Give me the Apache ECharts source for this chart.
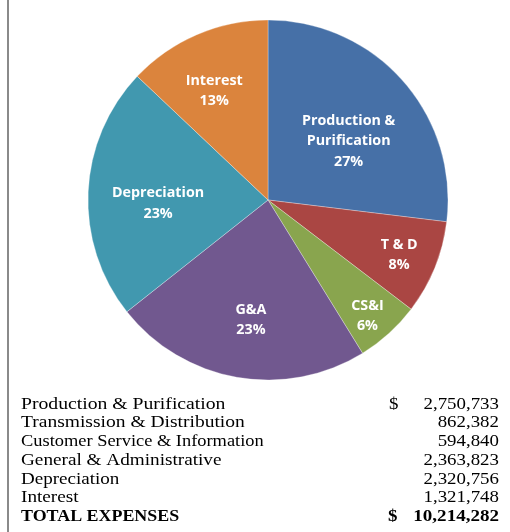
<!DOCTYPE html>
<html>
<head>
<meta charset="utf-8">
<script src="https://cdn.jsdelivr.net/npm/echarts@6/dist/echarts.min.js"></script>
<style>
  html, body { margin: 0; padding: 0; background: #ffffff; }
  #chart { width: 510px; height: 532px; }
</style>
</head>
<body>
<div id="chart"></div>
<script>
// ---- Data ----
var sliceLabels = ['Production &\nPurification', 'T & D', 'CS&I', 'G&A', 'Depreciation', 'Interest'];
var expenseNames = ['Production & Purification', 'Transmission & Distribution', 'Customer Service & Information',
                    'General & Administrative', 'Depreciation', 'Interest'];
var expenseAmounts = [2750733, 862382, 594840, 2363823, 2320756, 1321748];
var totalLabel = 'TOTAL EXPENSES';

// ---- Styles ----
var sliceColors = ['#4670A7', '#AA4643', '#89A54E', '#71588F', '#4198AF', '#DB843D'];
var labelOffsets = [[11, 3], [45, 20], [37, 47], [-1, 28.5], [-17, 7.5], [-17, -23.5]];
var nameScales = [1.23, 1.22, 1.15, 1.2, 1.19, 1.2];

var total = expenseAmounts.reduce(function (a, b) { return a + b; }, 0);
function fmt(n) { return n.toLocaleString('en-US'); }

var pieData = sliceLabels.map(function (name, i) {
  return { name: name, value: expenseAmounts[i], itemStyle: { color: sliceColors[i] } };
});

var graphics = [
  { type: 'rect', shape: { x: 7, y: 0, width: 2, height: 532 }, style: { fill: '#8a8a8a' } }
];
var rowY0 = 404.5, rowStep = 18.7;
var serif = '"Liberation Serif", "Times New Roman", serif';
function txt(x, y, s, align, bold, sx) {
  return {
    type: 'text', x: x, y: y, scaleX: sx,
    style: { x: 0, y: 0, text: s, font: (bold ? 'bold ' : '') + '16px ' + serif, fill: '#000',
             textAlign: align, textVerticalAlign: 'middle' }
  };
}
expenseNames.forEach(function (nm, i) {
  var y = rowY0 + i * rowStep;
  graphics.push(txt(21, y, nm, 'left', false, nameScales[i]));
  graphics.push(txt(499, y, fmt(expenseAmounts[i]), 'right', false, 1.18));
});
graphics.push(txt(389, rowY0, '$', 'left', false, 1.18));
var ty = rowY0 + expenseNames.length * rowStep;
graphics.push(txt(21, ty, totalLabel, 'left', true, 1.12));
graphics.push(txt(388, ty, '$', 'left', true, 1.18));
graphics.push(txt(499, ty, fmt(total), 'right', true, 1.19));

var chart = echarts.init(document.getElementById('chart'), null, { renderer: 'canvas' });
chart.setOption({
  backgroundColor: '#ffffff',
  animation: false,
  graphic: graphics,
  series: [{
    type: 'pie',
    center: [268, 200],
    radius: [0, 180],
    startAngle: 90,
    clockwise: true,
    avoidLabelOverlap: false,
    data: pieData,
    itemStyle: { borderColor: 'rgba(255,255,255,0.6)', borderWidth: 0.5 },
    label: {
      show: true,
      position: 'inside',
      color: '#ffffff',
      fontFamily: '"Open Sans", Lato, sans-serif',
      fontWeight: 'bold',
      fontSize: 14.3,
      lineHeight: 20.5,
      formatter: function (p) { return p.name + '\n' + Math.round(p.percent) + '%'; }
    },
    labelLine: { show: false },
    labelLayout: function (params) {
      var o = labelOffsets[params.dataIndex];
      return { dx: o[0], dy: o[1] };
    }
  }]
});
</script>
</body>
</html>
